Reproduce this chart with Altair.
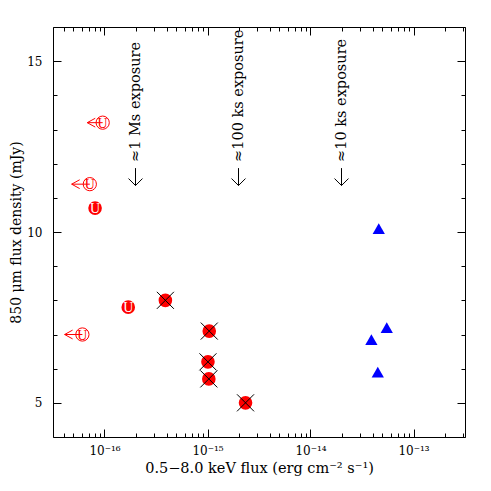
import altair as alt
import pandas as pd

FONT = "DejaVu Serif"
U_FONT = "Liberation Serif"
RED = "#ff0000"
BLUE = "#0000ff"

# ---- data ----
# upper limits in X-ray flux (open circles with "U" and left arrows)
ul_flux = [9.6e-17, 7.2e-17, 6.1e-17]
ul_tip = [6.8e-17, 4.8e-17, 4.1e-17]
ul_smm = [13.2, 11.4, 7.0]

# filled circles marked "U"
u_flux = [8.1e-17, 1.7e-16]
u_smm = [10.7, 7.8]

# filled circles with a cross
c_flux = [3.9e-16, 1.04e-15, 1.01e-15, 1.03e-15, 2.34e-15]
c_smm = [8.0, 7.1, 6.2, 5.7, 5.0]

# blue triangles
t_flux = [4.6e-14, 5.5e-14, 3.9e-14, 4.5e-14]
t_smm = [10.1, 7.2, 6.85, 5.9]

# exposure annotations
exp_flux = [2e-16, 2e-15, 2e-14]
exp_label = ["\u22481 Ms exposure", "\u2248100 ks exposure", "\u224810 ks exposure"]
exp_text_y = [12.05, 12.05, 12.05]
exp_top = [11.87, 11.87, 11.87]
exp_tip = [11.36, 11.36, 11.36]

# axes
x_domain = [10 ** -16.5, 10 ** -12.5]
y_domain = [4, 16]
x_major = [1e-16, 1e-15, 1e-14, 1e-13]
x_labels = ["10\u207b\u00b9\u2076", "10\u207b\u00b9\u2075", "10\u207b\u00b9\u2074", "10\u207b\u00b9\u00b3"]
x_minor = [m * 10.0 ** e for e in range(-17, -12) for m in range(2, 10)
           if x_domain[0] <= m * 10.0 ** e <= x_domain[1]]
y_major = [5, 10, 15]
y_minor = [4, 6, 7, 8, 9, 11, 12, 13, 14, 16]
x_title = "0.5\u22128.0 keV flux (erg cm\u207b\u00b2 s\u207b\u00b9)"
y_title = "850 \u03bcm flux density (mJy)"

df_ul = pd.DataFrame({"flux": ul_flux, "flux2": ul_tip, "smm": ul_smm, "t": ["U"] * len(ul_flux)})
df_u = pd.DataFrame({"flux": u_flux, "smm": u_smm, "t": ["U"] * len(u_flux)})
df_c = pd.DataFrame({"flux": c_flux, "smm": c_smm})
df_t = pd.DataFrame({"flux": t_flux, "smm": t_smm})
df_e = pd.DataFrame({"flux": exp_flux, "label": exp_label, "ty": exp_text_y,
                     "smm": exp_top, "smm2": exp_tip})

xs = alt.Scale(type="log", domain=x_domain, nice=False)
ys = alt.Scale(type="linear", domain=y_domain, nice=False, zero=False)

label_expr = "[" + ",".join("'%s'" % s for s in x_labels) + "][round(log(datum.value)/LN10) + 16]"

common = dict(domain=False, grid=False, tickColor="black", tickWidth=1,
              labelFont=FONT, labelColor="black", titleFont=FONT,
              titleColor="black", titleFontWeight="normal")


def ax(orient, values, size, labels=False, title="", **kw):
    d = dict(common)
    d.update(kw)
    return alt.Axis(orient=orient, values=values, tickSize=size, offset=-size,
                    labels=labels, title=title, **d)


ax_b_major = ax("bottom", x_major, 8, labels=True, title=x_title,
                labelExpr=label_expr, labelFontSize=12, labelPadding=8,
                labelOverlap=False, labelFlush=False,
                titleFontSize=14.5, titlePadding=5)
ax_b_minor = ax("bottom", x_minor, 4)
ax_t_major = ax("top", x_major, 8)
ax_t_minor = ax("top", x_minor, 4)
ax_l_major = ax("left", y_major, 8, labels=True, title=y_title,
                labelFontSize=12, labelPadding=11, titleFontSize=14,
                titlePadding=3)
ax_l_minor = ax("left", y_minor, 4)
ax_r_major = ax("right", y_major, 8)
ax_r_minor = ax("right", y_minor, 4)


def X(axis=None, field="flux"):
    return alt.X(field + ":Q", scale=xs, axis=axis)


def Y(axis=None, field="smm"):
    return alt.Y(field + ":Q", scale=ys, axis=axis)


tri = alt.Chart(df_t).mark_point(shape="triangle-up", filled=True, color=BLUE,
                                 size=150, opacity=1).encode(
    x=X(ax_b_major), y=Y(ax_l_major))

c_dot = alt.Chart(df_c).mark_circle(size=185, color=RED, opacity=1).encode(
    x=X(ax_b_minor), y=Y(ax_l_minor))
c_cross = alt.Chart(df_c).mark_point(shape="M-1,-1L1,1M-1,1L1,-1", size=290,
                                     filled=False, color="black", strokeWidth=1,
                                     opacity=1).encode(
    x=X(ax_t_major), y=Y(ax_r_major))

u_dot = alt.Chart(df_u).mark_circle(size=185, color=RED, opacity=1).encode(
    x=X(ax_t_minor), y=Y(ax_r_minor))
u_txt = alt.Chart(df_u).mark_text(color="white", font=U_FONT, fontSize=14,
                                  baseline="middle", align="center", dy=1).encode(
    x=X(), y=Y(), text="t:N")

ul_shaft = alt.Chart(df_ul).mark_rule(color=RED, strokeWidth=1).encode(
    x=X(), x2="flux2:Q", y=Y())
ul_head = alt.Chart(df_ul).mark_point(shape="M1,-0.55L0,0L1,0.55", size=256,
                                      filled=False, color=RED, strokeWidth=1,
                                      opacity=1).encode(
    x=X(field="flux2"), y=Y())
ul_circ = alt.Chart(df_ul).mark_point(shape="circle", size=175, filled=False,
                                      color=RED, strokeWidth=1, opacity=1).encode(
    x=X(), y=Y())
ul_txt = alt.Chart(df_ul).mark_text(color=RED, font=U_FONT, fontSize=14,
                                    baseline="middle", align="center", dy=1).encode(
    x=X(), y=Y(), text="t:N")

e_shaft = alt.Chart(df_e).mark_rule(color="black", strokeWidth=1).encode(
    x=X(), y=Y(), y2="smm2:Q")
e_head = alt.Chart(df_e).mark_point(shape="M-1,-1L0,0L1,-1", size=196,
                                    filled=False, color="black", strokeWidth=1,
                                    opacity=1).encode(
    x=X(), y=Y(field="smm2"))
e_txt = alt.Chart(df_e).mark_text(angle=270, align="left", baseline="middle",
                                  font=FONT, fontSize=14.5, color="black").encode(
    x=X(), y=Y(field="ty"), text="label:N")

chart = alt.layer(
    tri, c_dot, c_cross, u_dot, u_txt, ul_shaft, ul_head, ul_circ, ul_txt,
    e_shaft, e_head, e_txt
).resolve_axis(x="independent", y="independent").properties(
    width=412, height=410,
    autosize=alt.AutoSizeParams(type="none"),
    padding={"left": 45, "top": 19, "right": 18, "bottom": 50},
    background="white",
).configure_view(stroke="black", strokeWidth=1)

chart.save("out.html", embed_options={"renderer": "svg", "actions": False})
